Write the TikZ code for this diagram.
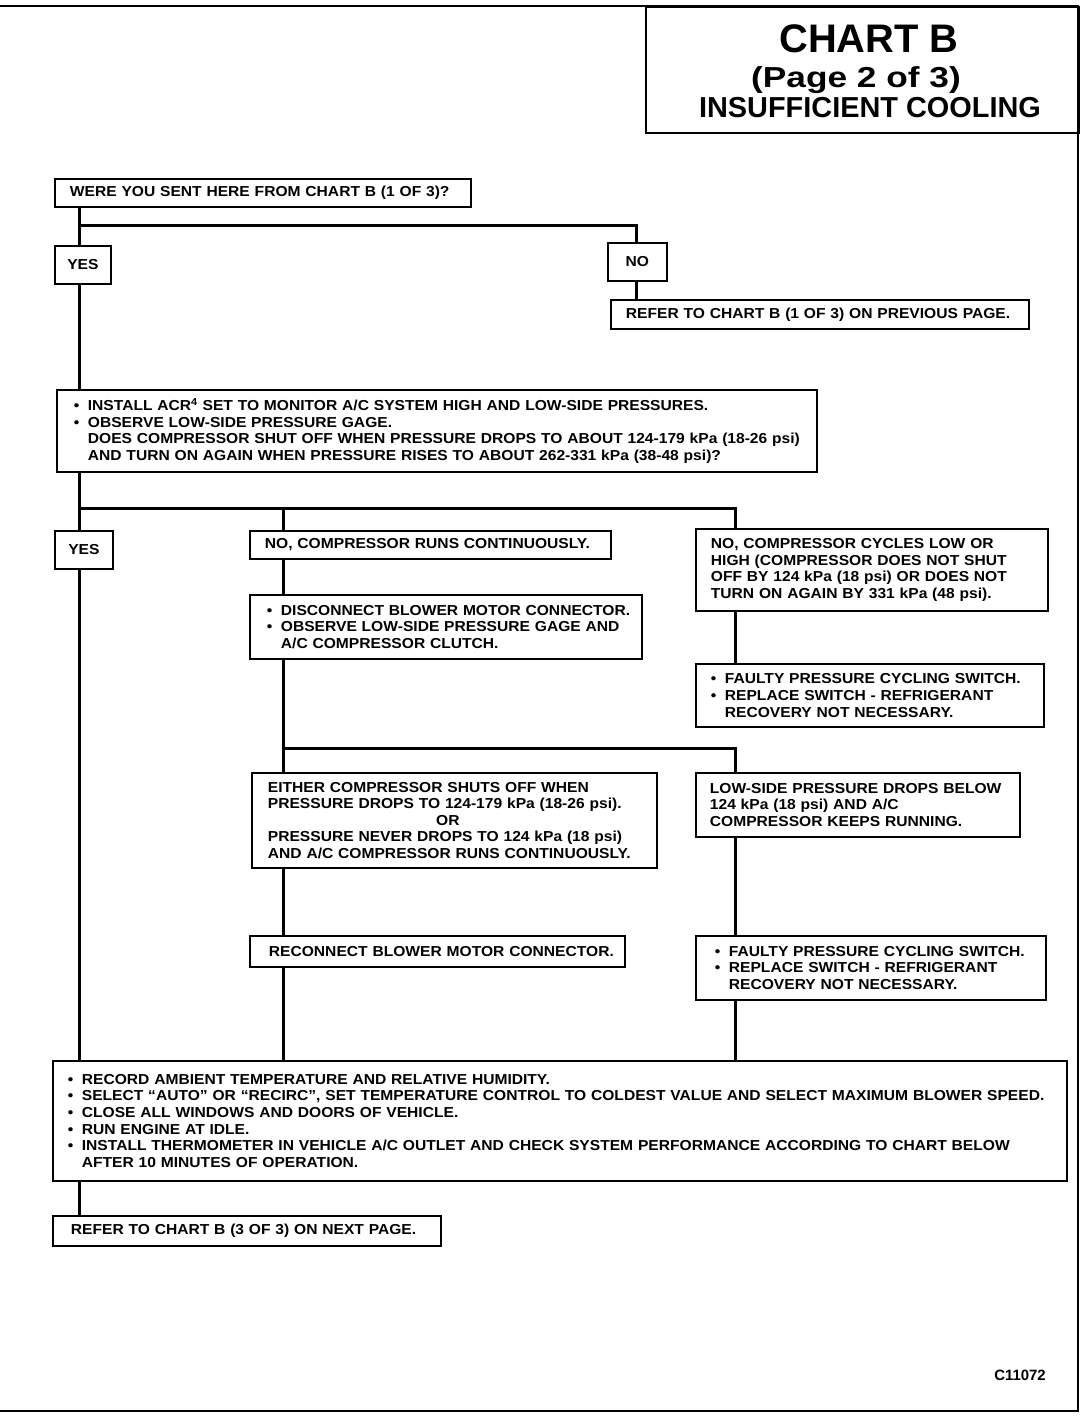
\documentclass[tikz,border=0pt]{standalone}
\usepackage{fontspec}
\setmainfont{Liberation Sans}
\newfontfamily\bodyfam{Liberation Sans}[FakeStretch=1.08,Ligatures=TeX]
\newfontfamily\pagefam{Liberation Sans}[FakeStretch=1.22,Ligatures=TeX]
\newcommand{\bodyfnt}{\bodyfam\fontsize{14.5}{16.7}\selectfont\bfseries}
\newcommand{\bul}{\makebox[14bp][l]{•}}
\newcommand{\ind}{\hspace*{14bp}}
\newcommand{\Ln}[1]{\mbox{#1}}
\begin{document}
\begin{tikzpicture}[x=1bp,y=-1bp,
  box/.style={draw, line width=1.8bp, fill=white, anchor=north west, align=left,
    inner xsep=15bp, inner ysep=0bp, font=\bodyfnt},
  smallbox/.style={draw, line width=1.8bp, fill=white, anchor=north west, align=center,
    inner sep=0bp, font=\bodyfnt},
  conn/.style={line width=3bp},
  framel/.style={line width=2bp}]
\useasboundingbox (0,0) rectangle (1088,1424);
% page frame and title
\draw[framel] (0,6) -- (1078,6) -- (1078,1411) -- (0,1411);
\node[draw, line width=2bp, anchor=north west, minimum width=433bp, minimum height=126bp, inner sep=0bp] (titlebox) at (645,6) {};
\node[anchor=base, font=\fontsize{40}{44}\selectfont\bfseries, inner sep=0bp] (t1) at (869,53) {CHART B};
\node[anchor=base, font=\pagefam\fontsize{29}{32}\selectfont\bfseries, inner sep=0bp] (t2) at (856,88) {(Page 2 of 3)};
\node[anchor=base, font=\fontsize{29}{32}\selectfont\bfseries, inner sep=0bp] (t3) at (870,118) {INSUFFICIENT COOLING};

% boxes
\node[box, minimum width=416bp, minimum height=28bp, text width=386bp] (q1) at (54,178) {\Ln{WERE YOU SENT HERE FROM CHART B (1 OF 3)?}};
\node[smallbox, minimum width=56bp, minimum height=38bp] (yes1) at (54,245) {YES};
\node[smallbox, minimum width=59bp, minimum height=38bp] (no1) at (607,242) {NO};
\node[box, minimum width=418bp, minimum height=29bp, text width=388bp] (ref1) at (610,299) {\Ln{REFER TO CHART B (1 OF 3) ON PREVIOUS PAGE.}};
\node[box, inner xsep=17bp, minimum width=760bp, minimum height=82bp, text width=726bp] (q3) at (56,389) {\Ln{\bul INSTALL ACR\textsuperscript{4} SET TO MONITOR A/C SYSTEM HIGH AND LOW-SIDE PRESSURES.}\\
\Ln{\bul OBSERVE LOW-SIDE PRESSURE GAGE.}\\
\Ln{\ind DOES COMPRESSOR SHUT OFF WHEN PRESSURE DROPS TO ABOUT 124-179 kPa (18-26 psi)}\\
\Ln{\ind AND TURN ON AGAIN WHEN PRESSURE RISES TO ABOUT 262-331 kPa (38-48 psi)?}};
\node[smallbox, minimum width=58bp, minimum height=38bp] (yes2) at (54,530) {YES};
\node[box, minimum width=361bp, minimum height=28bp, text width=331bp] (norun) at (249,530) {\Ln{NO, COMPRESSOR RUNS CONTINUOUSLY.}};
\node[box, minimum width=352bp, minimum height=82bp, text width=322bp] (cyc) at (695,528) {\Ln{NO, COMPRESSOR CYCLES LOW OR}\\
\Ln{HIGH (COMPRESSOR DOES NOT SHUT}\\
\Ln{OFF BY 124 kPa (18 psi) OR DOES NOT}\\
\Ln{TURN ON AGAIN BY 331 kPa (48 psi).}};
\node[box, inner xsep=17bp, minimum width=392bp, minimum height=64bp, text width=358bp] (disc) at (249,594) {\Ln{\bul DISCONNECT BLOWER MOTOR CONNECTOR.}\\
\Ln{\bul OBSERVE LOW-SIDE PRESSURE GAGE AND}\\
\Ln{\ind A/C COMPRESSOR CLUTCH.}};
\node[box, minimum width=348bp, minimum height=63bp, text width=318bp] (faulty1) at (695,663) {\Ln{\bul FAULTY PRESSURE CYCLING SWITCH.}\\
\Ln{\bul REPLACE SWITCH - REFRIGERANT}\\
\Ln{\ind RECOVERY NOT NECESSARY.}};
\node[box, inner xsep=16bp, minimum width=405bp, minimum height=95bp, text width=373bp] (either) at (251,772) {\Ln{EITHER COMPRESSOR SHUTS OFF WHEN}\\
\Ln{PRESSURE DROPS TO 124-179 kPa (18-26 psi).}\\
\makebox[360bp]{OR}\\
\Ln{PRESSURE NEVER DROPS TO 124 kPa (18 psi)}\\
\Ln{AND A/C COMPRESSOR RUNS CONTINUOUSLY.}};
\node[box, inner xsep=14bp, minimum width=324bp, minimum height=64bp, text width=296bp] (low) at (695,772) {\Ln{LOW-SIDE PRESSURE DROPS BELOW}\\
\Ln{124 kPa (18 psi) AND A/C}\\
\Ln{COMPRESSOR KEEPS RUNNING.}};
\node[box, inner xsep=19bp, minimum width=375bp, minimum height=31bp, text width=337bp] (recon) at (249,935) {\Ln{RECONNECT BLOWER MOTOR CONNECTOR.}};
\node[box, inner xsep=19bp, minimum width=350bp, minimum height=64bp, text width=312bp] (faulty2) at (695,935) {\Ln{\bul FAULTY PRESSURE CYCLING SWITCH.}\\
\Ln{\bul REPLACE SWITCH - REFRIGERANT}\\
\Ln{\ind RECOVERY NOT NECESSARY.}};
\node[box, minimum width=1014bp, minimum height=120bp, text width=984bp] (rec) at (52,1060) {\Ln{\bul RECORD AMBIENT TEMPERATURE AND RELATIVE HUMIDITY.}\\
\Ln{\bul SELECT “AUTO” OR “RECIRC”, SET TEMPERATURE CONTROL TO COLDEST VALUE AND SELECT MAXIMUM BLOWER SPEED.}\\
\Ln{\bul CLOSE ALL WINDOWS AND DOORS OF VEHICLE.}\\
\Ln{\bul RUN ENGINE AT IDLE.}\\
\Ln{\bul INSTALL THERMOMETER IN VEHICLE A/C OUTLET AND CHECK SYSTEM PERFORMANCE ACCORDING TO CHART BELOW}\\
\Ln{\ind AFTER 10 MINUTES OF OPERATION.}};
\node[box, inner xsep=18bp, minimum width=388bp, minimum height=30bp, text width=352bp] (refnext) at (52,1215) {\Ln{REFER TO CHART B (3 OF 3) ON NEXT PAGE.}};
\node[anchor=base, font=\fontsize{15}{17}\selectfont\bfseries, inner sep=0bp] (code) at (1020,1380) {C11072};

% connector lines
\coordinate (tr) at (79,0);
\coordinate (nx) at (636,0);
\coordinate (bx) at (283,0);
\coordinate (cx) at (735,0);
\coordinate (j1) at (79,226);
\coordinate (j2) at (79,508);
\coordinate (j3) at (283,748);
\draw[conn] (tr|-q1.south) -- (tr|-yes1.north);
\draw[conn] (tr|-yes1.south) -- (tr|-q3.north);
\draw[conn] (tr|-q3.south) -- (tr|-yes2.north);
\draw[conn] (tr|-yes2.south) -- (tr|-rec.north);
\draw[conn] (tr|-rec.south) -- (tr|-refnext.north);
\draw[conn] (j1) -| (nx|-no1.north);
\draw[conn] (nx|-no1.south) -- (nx|-ref1.north);
\draw[conn] (j2) -| (cx|-cyc.north);
\draw[conn] (bx|-j2) -- (bx|-norun.north);
\draw[conn] (bx|-norun.south) -- (bx|-disc.north);
\draw[conn] (bx|-disc.south) -- (bx|-either.north);
\draw[conn] (j3) -| (cx|-low.north);
\draw[conn] (bx|-either.south) -- (bx|-recon.north);
\draw[conn] (bx|-recon.south) -- (bx|-rec.north);
\draw[conn] (cx|-cyc.south) -- (cx|-faulty1.north);
\draw[conn] (cx|-low.south) -- (cx|-faulty2.north);
\draw[conn] (cx|-faulty2.south) -- (cx|-rec.north);
\end{tikzpicture}
\end{document}
